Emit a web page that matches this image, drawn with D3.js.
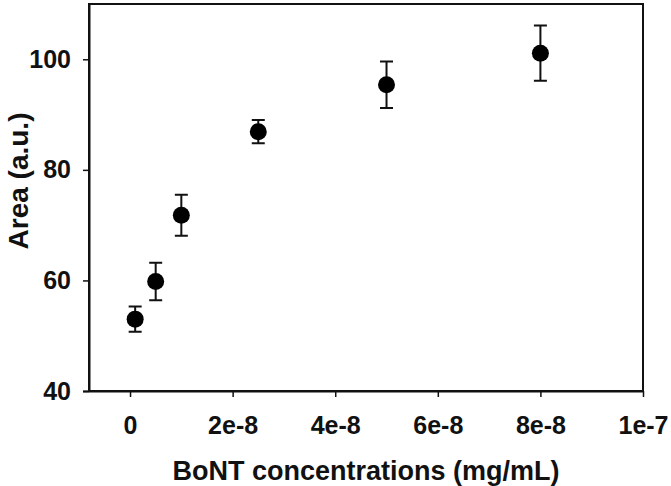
<!DOCTYPE html>
<html>
<head>
<meta charset="utf-8">
<script src="https://cdn.jsdelivr.net/npm/d3@7"></script>
<style>
  html, body { margin: 0; padding: 0; background: #fff; }
  svg { display: block; font-family: "Liberation Sans", Arial, sans-serif; font-weight: bold; }
</style>
</head>
<body>
<svg id="chart" width="671" height="486"></svg>
<script>
// data
const concentrations = [0.1e-8, 0.5e-8, 1e-8, 2.5e-8, 5e-8, 8e-8];
const areas = [53.0, 59.8, 71.8, 86.9, 95.4, 101.1];
const errors = [2.3, 3.4, 3.7, 2.1, 4.2, 5.0];
const xTicks = [0, 2e-8, 4e-8, 6e-8, 8e-8, 1e-7];
const xTickLabels = ["0", "2e-8", "4e-8", "6e-8", "8e-8", "1e-7"];
const yTicks = [40, 60, 80, 100];

const INK = "#111";
const margin = { left: 89, right: 28, top: 4, bottom: 95 };
const width = 671, height = 486;

const svg = d3.select("#chart");

const x = d3.scaleLinear()
  .domain([-0.8e-8, 1e-7])
  .range([margin.left, width - margin.right]);
const y = d3.scaleLinear()
  .domain([40, 110])
  .range([height - margin.bottom, margin.top]);

// frame
svg.append("rect")
  .attr("x", x.range()[0])
  .attr("y", y.range()[1])
  .attr("width", x.range()[1] - x.range()[0])
  .attr("height", y.range()[0] - y.range()[1])
  .attr("fill", "none")
  .attr("stroke", INK)
  .attr("stroke-width", 2);

// x axis
const xAxis = svg.append("g")
  .attr("transform", `translate(0,${y.range()[0]})`)
  .call(d3.axisBottom(x)
    .tickValues(xTicks)
    .tickFormat((d, i) => xTickLabels[i])
    .tickSize(6)
    .tickSizeOuter(0)
    .tickPadding(19));
xAxis.select(".domain")
  .attr("d", `M${x.range()[0] - 6},0.5H${x.range()[1]}`)
  .attr("stroke", INK).attr("stroke-width", 2);
xAxis.selectAll(".tick line").attr("stroke", INK).attr("stroke-width", 1.5);
xAxis.selectAll(".tick text")
  .attr("fill", INK)
  .style("font-size", "25px")
  .style("font-weight", "bold");

// y axis
const yAxis = svg.append("g")
  .attr("transform", `translate(${x.range()[0]},0)`)
  .call(d3.axisLeft(y)
    .tickValues(yTicks)
    .tickSize(6)
    .tickSizeOuter(0)
    .tickPadding(12));
yAxis.select(".domain").attr("stroke", INK).attr("stroke-width", 2);
yAxis.selectAll(".tick line").attr("stroke", INK).attr("stroke-width", 1.5);
yAxis.selectAll(".tick text")
  .attr("fill", INK)
  .style("font-size", "25px")
  .style("font-weight", "bold");

// axis titles
svg.append("text")
  .attr("x", (x.range()[0] + x.range()[1]) / 2)
  .attr("y", 480)
  .attr("text-anchor", "middle")
  .attr("fill", INK)
  .style("font-size", "27px")
  .text("BoNT concentrations (mg/mL)");

svg.append("text")
  .attr("transform", "translate(28,181) rotate(-90)")
  .attr("text-anchor", "middle")
  .attr("fill", INK)
  .style("font-size", "28px")
  .text("Area (a.u.)");

// error bars
const pts = concentrations.map((c, i) => ({ c, a: areas[i], e: errors[i] }));
const CAP = 6.5;
const bars = svg.append("g").attr("stroke", INK).attr("stroke-width", 2);
bars.selectAll("path")
  .data(pts)
  .enter()
  .append("path")
  .attr("fill", "none")
  .attr("d", (d) => {
    const cx = x(d.c), t = y(d.a + d.e), b = y(d.a - d.e);
    return `M${cx},${t}V${b}M${cx - CAP},${t}H${cx + CAP}M${cx - CAP},${b}H${cx + CAP}`;
  });

// points
svg.append("g")
  .selectAll("circle")
  .data(pts)
  .enter()
  .append("circle")
  .attr("cx", (d) => x(d.c))
  .attr("cy", (d) => y(d.a))
  .attr("r", 8.5)
  .attr("fill", "#000");
</script>
</body>
</html>
